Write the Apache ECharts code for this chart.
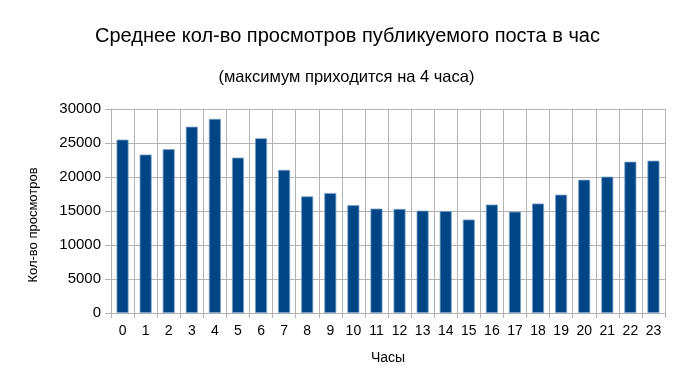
<!DOCTYPE html>
<html><head><meta charset="utf-8">
<script src="https://cdn.jsdelivr.net/npm/echarts@6/dist/echarts.min.js"></script>
<style>html,body{margin:0;padding:0;background:#fff}#c{width:693px;height:390px}</style>
</head><body><div id="c"></div>
<script>
var hours = ['0','1','2','3','4','5','6','7','8','9','10','11','12','13','14','15','16','17','18','19','20','21','22','23'];
var views = [25500, 23300, 24100, 27400, 28550, 22850, 25700, 21050, 17150, 17650, 15850, 15350, 15300, 15050, 15000, 13750, 15950, 14900, 16100, 17400, 19600, 20050, 22250, 22400];
var yTicks = [0, 5000, 10000, 15000, 20000, 25000, 30000];

var chart = echarts.init(document.getElementById('c'));
var font = '"Liberation Sans", Arial, sans-serif';
chart.setOption({
  animation: false,
  title: [
    {text: 'Среднее кол-во просмотров публикуемого поста в час', left: 90, top: 21,
     textStyle: {fontFamily: font, fontSize: 20, fontWeight: 'normal', color: '#000'}},
    {text: '(максимум приходится на 4 часа)', left: 'center', top: 64,
     textStyle: {fontFamily: font, fontSize: 16.5, fontWeight: 'normal', color: '#000'}}
  ],
  graphic: [{
    type: 'text', x: 33, y: 225, rotation: Math.PI / 2,
    style: {text: 'Кол-во просмотров', fontFamily: font, fontSize: 13, fill: '#000',
            align: 'center', verticalAlign: 'middle'}
  }],
  grid: {left: 111, right: 28, top: 109, bottom: 77, containLabel: false},
  xAxis: {
    type: 'category', data: hours, boundaryGap: true,
    name: 'Часы', nameLocation: 'middle', nameGap: 38,
    nameTextStyle: {fontFamily: font, fontSize: 14, color: '#000'},
    axisLine: {lineStyle: {color: '#b3b3b3'}},
    axisTick: {show: true, alignWithLabel: false, length: 5, lineStyle: {color: '#b3b3b3'}},
    axisLabel: {fontFamily: font, fontSize: 14, color: '#000', margin: 11, interval: 0},
    splitLine: {show: true, interval: 0, lineStyle: {color: '#b3b3b3'}}
  },
  yAxis: {
    type: 'value', min: 0, max: 30000, interval: 5000,
    axisLine: {show: true, lineStyle: {color: '#b3b3b3'}},
    axisTick: {show: true, length: 6, lineStyle: {color: '#b3b3b3'}},
    axisLabel: {fontFamily: font, fontSize: 15, color: '#000', margin: 10,
      formatter: function (v) { return yTicks.indexOf(v) >= 0 ? String(v) : ''; }},
    splitLine: {show: true, lineStyle: {color: '#b3b3b3'}}
  },
  series: [{
    type: 'bar', data: views, barWidth: 12,
    itemStyle: {color: '#004586', borderColor: '#7a9fc6', borderWidth: 0.8}
  }]
});
</script></body></html>
